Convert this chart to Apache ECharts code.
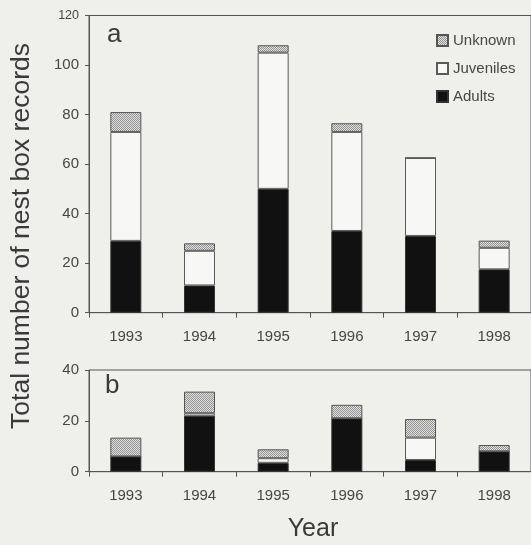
<!DOCTYPE html>
<html><head><meta charset="utf-8">
<script src="https://cdn.jsdelivr.net/npm/echarts@6/dist/echarts.min.js"></script>
<style>html,body{margin:0;padding:0;background:#efefec;}#c{width:531px;height:545px;}</style>
</head><body><div id="c"></div>
<script>
var years = ['1993','1994','1995','1996','1997','1998'];
// Panel a
var adultsA    = [29, 11, 50, 33, 31, 17.5];
var juvenilesA = [44, 14, 55, 40, 31.5, 8.7];
var unknownA   = [8, 3, 3, 3.5, 0, 2.9];
// Panel b
var adultsB    = [6, 22, 3.5, 21, 4.6, 8];
var juvenilesB = [0, 1, 1.8, 0, 8.8, 0];
var unknownB   = [7.4, 8.5, 3.5, 5.3, 7.3, 2.5];
var yTicksA = [0, 20, 40, 60, 80, 100, 120];
var yTicksB = [0, 20, 40];

var FONT = 'Liberation Sans, Arial, sans-serif';
var TXT = '#464646';
var LINE = '#555';

// stipple pattern for "Unknown"
var pc = document.createElement('canvas'); pc.width = 2; pc.height = 2;
var px = pc.getContext('2d');
px.fillStyle = '#e0e0e0'; px.fillRect(0,0,2,2);
px.fillStyle = '#949494'; px.fillRect(0,0,1,1); px.fillRect(1,1,1,1);
var stipple = {image: pc, repeat: 'repeat'};

var chart = echarts.init(document.getElementById('c'), null, {renderer:'canvas'});

function xAx(gi){
  return {type:'category', gridIndex:gi, data:years,
    axisLine:{lineStyle:{color:LINE,width:1}},
    axisTick:{show:true, alignWithLabel:false, length:5, lineStyle:{color:LINE}},
    axisLabel:{color:TXT, fontFamily:FONT, fontSize:15, margin:17}};
}
function yAx(gi, ticks){
  var mx = ticks[ticks.length-1];
  return {type:'value', gridIndex:gi, min:0, max:mx, interval:20,
    axisLine:{show:true, lineStyle:{color:LINE,width:1}},
    axisTick:{show:true, length:4, lineStyle:{color:LINE}},
    splitLine:{show:false},
    axisLabel:{color:TXT, fontFamily:FONT, fontSize:15, margin:10,
      formatter:function(v){ return (gi===0 && v===120) ? '{s|'+v+'}' : String(v); },
      rich:{s:{fontSize:12.5, color:TXT, fontFamily:FONT}}}};
}
function ser(name, data, gi, style){
  return {name:name, type:'bar', stack:'s'+gi, xAxisIndex:gi, yAxisIndex:gi,
    data:data, barWidth:31, itemStyle:style, emphasis:{disabled:true}, animation:false};
}
var stAd = {color:'#111', borderColor:'#333', borderWidth:1};
var stJu = {color:'#f7f7f5', borderColor:'#5a5a5a', borderWidth:1};
var stUn = {color:stipple, borderColor:'#555', borderWidth:1};

chart.setOption({
  animation:false,
  backgroundColor:'#efefec',
  grid:[
    {left:89, top:15.5, width:454, height:297.2, show:true, borderColor:LINE, borderWidth:1, backgroundColor:'transparent'},
    {left:89, top:370, width:454, height:101.7, show:true, borderColor:LINE, borderWidth:1, backgroundColor:'transparent'}
  ],
  xAxis:[xAx(0), xAx(1)],
  yAxis:[yAx(0, yTicksA), yAx(1, yTicksB)],
  legend:{orient:'vertical', left:436, top:28, itemWidth:11, itemHeight:11, itemGap:13,
    icon:'rect', selectedMode:false, padding:[5,0,5,0],
    data:['Unknown','Juveniles','Adults'],
    textStyle:{color:TXT, fontFamily:FONT, fontSize:15}},
  series:[
    ser('Adults', adultsA, 0, stAd), ser('Juveniles', juvenilesA, 0, stJu), ser('Unknown', unknownA, 0, stUn),
    ser('Adults', adultsB, 1, stAd), ser('Juveniles', juvenilesB, 1, stJu), ser('Unknown', unknownB, 1, stUn)
  ],
  graphic:[
    {type:'text', left:107, top:22, style:{text:'a', font:'26px '+FONT, fill:'#3a3a3a'}},
    {type:'text', left:105, top:373, style:{text:'b', font:'26px '+FONT, fill:'#3a3a3a'}},
    {type:'text', x:22, y:236, rotation:Math.PI/2, style:{text:'Total number of nest box records', font:'26.5px '+FONT, fill:'#3a3a3a', align:'center', verticalAlign:'middle'}},
    {type:'text', x:313, y:529, style:{text:'Year', font:'25px '+FONT, fill:'#3a3a3a', align:'center', verticalAlign:'middle'}}
  ]
});
</script></body></html>
